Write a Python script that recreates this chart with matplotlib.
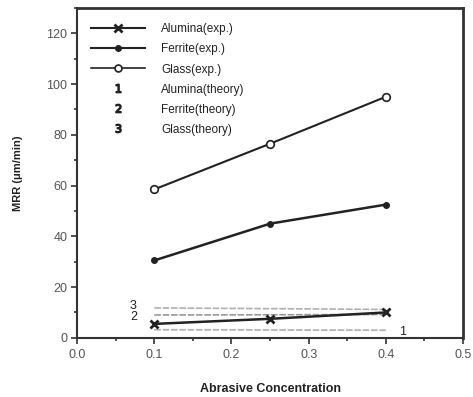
import matplotlib
matplotlib.use("Agg")
import matplotlib.pyplot as plt
from matplotlib.lines import Line2D
from matplotlib.ticker import MultipleLocator

plt.rcParams['font.family'] = ['Liberation Sans', 'DejaVu Sans']

conc = [0.1, 0.25, 0.4]
alumina_exp = [5.5, 7.5, 10.0]
ferrite_exp = [30.5, 45.0, 52.5]
glass_exp = [58.5, 76.5, 95.0]

theory_x = [0.1, 0.4]
alumina_th = [3.2, 3.0]
ferrite_th = [9.0, 9.2]
glass_th = [11.8, 11.2]

fig = plt.figure(figsize=(4.73, 3.97), dpi=100)
ax = fig.add_axes([0.163, 0.149, 0.816, 0.831])

ax.plot(theory_x, glass_th, color='#b0b0b0', lw=1.2, ls=(0, (4, 1)))
ax.plot(theory_x, ferrite_th, color='#999999', lw=1.2, ls=(0, (4, 1)))
ax.plot(theory_x, alumina_th, color='#b0b0b0', lw=1.2, ls=(0, (4, 1)))

ax.plot(conc, alumina_exp, color='#222222', lw=1.8, marker='x', ms=6, mew=2)
ax.plot(conc, ferrite_exp, color='#222222', lw=1.8, marker='o', ms=4)
ax.plot(conc, glass_exp, color='#222222', lw=1.5, marker='o', ms=5.5,
        mfc='white', mew=1.2)

ax.text(0.073, glass_th[0] + 0.8, '3', fontsize=9, ha='center', va='center', color='#222222')
ax.text(0.073, ferrite_th[0] - 0.8, '2', fontsize=9, ha='center', va='center', color='#222222')
ax.text(0.421, alumina_th[1] - 0.5, '1', fontsize=9, ha='center', va='center', color='#222222')

ax.set_xlim(0, 0.5)
ax.set_ylim(0, 130)
ax.xaxis.set_major_locator(MultipleLocator(0.1))
ax.xaxis.set_minor_locator(MultipleLocator(0.05))
ax.yaxis.set_major_locator(MultipleLocator(20))
ax.yaxis.set_minor_locator(MultipleLocator(10))
ax.set_xticks([0, 0.1, 0.2, 0.3, 0.4, 0.5])
ax.set_xticklabels(['0.0', '0.1', '0.2', '0.3', '0.4', '0.5'])
ax.tick_params(axis='both', which='major', direction='out', length=4, width=1.2,
               labelsize=9, colors='#333333', labelcolor='#555555', pad=4)
ax.tick_params(axis='both', which='minor', direction='out', length=2.5, width=1.2,
               colors='#333333')
ax.tick_params(axis='y', pad=3)
for s in ax.spines.values():
    s.set_linewidth(1.5)
    s.set_color('#333333')
ax.spines['top'].set_linewidth(2.0)
ax.spines['right'].set_linewidth(2.0)

ax.set_xlabel('Abrasive Concentration', fontsize=9, fontweight='bold', labelpad=16,
              color='#222222')
ax.set_ylabel('MRR (\u03bcm/min)', fontsize=8, fontweight='bold', labelpad=17,
              color='#222222')

handles = [
    Line2D([], [], color='#222222', lw=1.5, marker='x', ms=6, mew=2),
    Line2D([], [], color='#222222', lw=1.5, marker='o', ms=4),
    Line2D([], [], color='#222222', lw=1.2, marker='o', ms=5, mfc='white', mew=1.2),
    Line2D([], [], ls='none', marker='$1$', color='#222222', ms=6),
    Line2D([], [], ls='none', marker='$2$', color='#222222', ms=6),
    Line2D([], [], ls='none', marker='$3$', color='#222222', ms=6),
]
labels = ['Alumina(exp.)', 'Ferrite(exp.)', 'Glass(exp.)',
          'Alumina(theory)', 'Ferrite(theory)', 'Glass(theory)']
leg = ax.legend(handles, labels, loc='upper left', frameon=False, fontsize=8.5,
                handlelength=4.6, handletextpad=1.35, labelspacing=0.68,
                bbox_to_anchor=(0.015, 0.978), borderaxespad=0.3)
for t in leg.get_texts():
    t.set_color('#222222')

fig.savefig('out.png', dpi=100)
